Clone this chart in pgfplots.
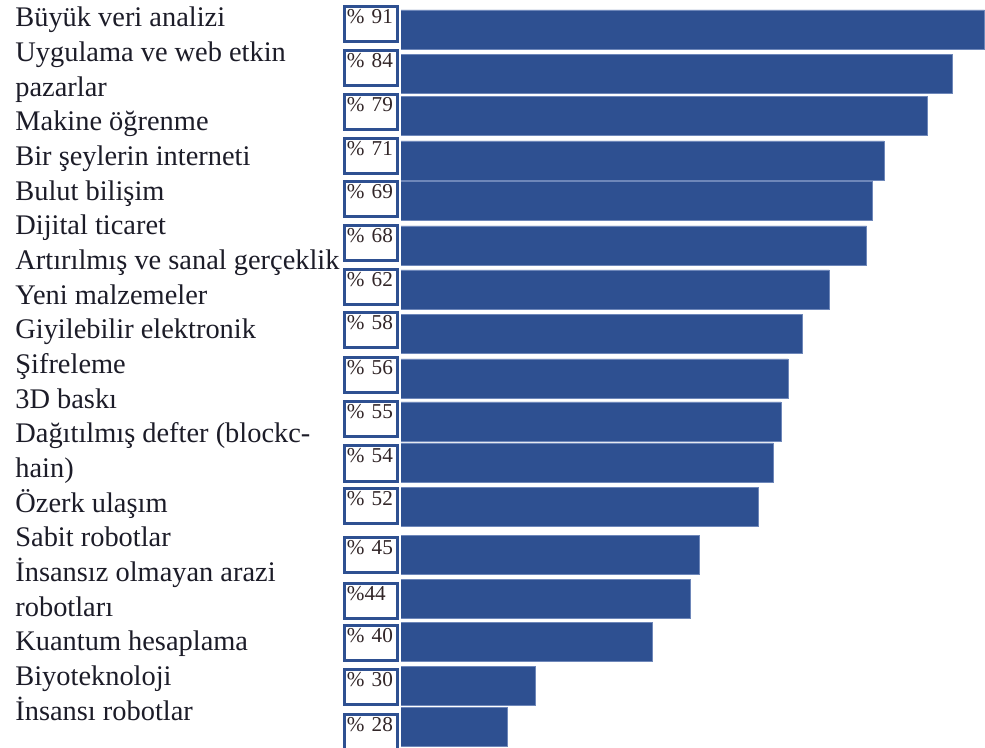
\documentclass[border=0pt]{standalone}
\usepackage{pgfplots}
\pgfplotsset{compat=1.18}
\usepackage{fontspec}
\setmainfont{Liberation Serif}
\definecolor{barblue}{RGB}{46,80,145}
\definecolor{baredge}{RGB}{110,135,185}
\definecolor{labeltext}{RGB}{28,28,40}
\definecolor{valtext}{RGB}{50,38,40}

\begin{document}
\begin{tikzpicture}
\begin{axis}[
  scale only axis,
  width=292pt, height=374pt,
  xbar,
  xmode=log,
  xmin=21.5, xmax=91.1,
  ymin=0, ymax=748, y dir=reverse,
  axis line style={draw=none},
  tick style={draw=none},
  xtick=\empty,
  ytick={24,68,112,156,199.5,243.5,287.5,330,375.5,419.5,463.5,506,554.5,600.5,643,687,732},
  yticklabels={\% 91,\% 84,\% 79,\% 71,\% 69,\% 68,\% 62,\% 58,\% 56,\% 55,\% 54,\% 52,\% 45,\%44,\% 40,\% 30,\% 28},
  yticklabel style={draw=barblue, line width=1.5pt, fill=white, text=valtext,
    font=\fontsize{10.6}{12}\selectfont, inner xsep=1.25pt, inner ysep=0.5pt,
    text width=24pt, align=left, text height=8pt, text depth=8.5pt,
    anchor=east, xshift=3.25pt},
]
% bars: value, vertical position of the bar centre (pixels from the top)
\addplot[xbar, bar width=39, fill=barblue, draw=baredge, line width=0.4pt] coordinates {
  (91,29.5) (84,74) (79,116) (71,160.5) (69,201) (68,245.5) (62,289.5)
  (58,334) (56,378.5) (55,421.5) (54,462.5) (52,506.5) (45,555)
  (44,598.5) (40,641.5) (30,686) (28,727)
};
\coordinate (TL) at (axis cs:21.5,0);
\coordinate (BR) at (axis cs:91.1,748);
\end{axis}
\foreach \t [count=\i from 0] in {Büyük veri analizi, Uygulama ve web etkin, pazarlar,
  Makine öğrenme, Bir şeylerin interneti, Bulut bilişim, Dijital ticaret,
  Artırılmış ve sanal gerçeklik, Yeni malzemeler, Giyilebilir elektronik,
  Şifreleme, 3D baskı, Dağıtılmış defter (blockc-, hain), Özerk ulaşım,
  Sabit robotlar, İnsansız olmayan arazi, robotları, Kuantum hesaplama,
  Biyoteknoloji, İnsansı robotlar}
  \node[anchor=base west, inner sep=0, font=\fontsize{14.2}{17}\selectfont, text=labeltext]
    at ([xshift=-193pt, yshift={-13.5pt-\i*17.33pt}]TL) {\t};
\pgfresetboundingbox
\path[use as bounding box] ([xshift=-200.5pt]TL) rectangle (BR);
\end{tikzpicture}
\end{document}
